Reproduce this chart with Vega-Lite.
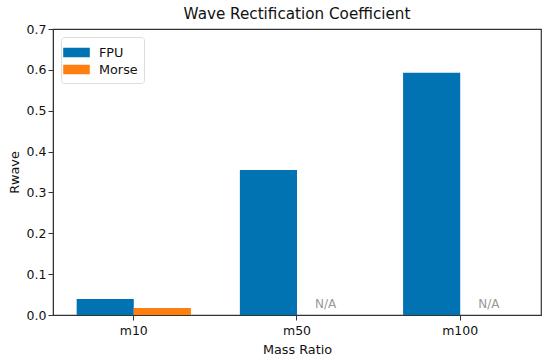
{
  "$schema": "https://vega.github.io/schema/vega-lite/v6.json",
  "autosize": {"type": "none"},
  "padding": {"left": 53, "top": 29, "right": 9, "bottom": 45},
  "width": 488,
  "height": 286,
  "title": {"text": "Wave Rectification Coefficient", "fontSize": 15.2, "fontWeight": "normal", "font": "DejaVu Sans", "color": "#111", "offset": 1},
  "config": {
    "view": {"stroke": "#333", "strokeWidth": 1.2},
    "font": "DejaVu Sans",
    "axis": {"labelFont": "DejaVu Sans", "titleFont": "DejaVu Sans", "labelFontSize": 12.5, "titleFontSize": 12.8, "titleFontWeight": "normal", "labelColor": "#111", "titleColor": "#111", "domainColor": "#333", "tickColor": "#333", "tickSize": 5, "grid": false}
  },
  "data": {"values": [
    {"ratio": "m10", "series": "FPU", "value": 0.039, "label": null},
    {"ratio": "m10", "series": "Morse", "value": 0.017, "label": null},
    {"ratio": "m50", "series": "FPU", "value": 0.355, "label": null},
    {"ratio": "m50", "series": "Morse", "value": null, "label": "N/A"},
    {"ratio": "m100", "series": "FPU", "value": 0.593, "label": null},
    {"ratio": "m100", "series": "Morse", "value": null, "label": "N/A"}
  ]},
  "encoding": {
    "x": {"field": "ratio", "type": "nominal", "sort": ["m10", "m50", "m100"],
      "scale": {"paddingInner": 0.3, "paddingOuter": 0.145},
      "axis": {"title": "Mass Ratio", "labelAngle": 0, "labelPadding": 4, "titlePadding": 7}},
    "xOffset": {"field": "series", "type": "nominal", "scale": {"domain": ["FPU", "Morse"], "paddingInner": 0, "paddingOuter": 0}}
  },
  "layer": [
    {
      "mark": {"type": "bar"},
      "encoding": {
        "y": {"field": "value", "type": "quantitative", "scale": {"domain": [0, 0.7], "nice": false},
          "axis": {"title": "Rwave", "values": [0, 0.1, 0.2, 0.3, 0.4, 0.5, 0.6, 0.7], "format": ".1f", "titlePadding": 5}},
        "color": {"field": "series", "type": "nominal",
          "scale": {"domain": ["FPU", "Morse"], "range": ["#0173B2", "#FF7F0E"]},
          "legend": {"title": null, "orient": "top-left", "offset": 8, "symbolType": "M-1.4,-0.5H1.4V0.5H-1.4Z", "symbolSize": 361, "symbolStrokeWidth": 0, "labelFontSize": 12.8, "labelFont": "DejaVu Sans", "labelColor": "#111", "labelOffset": 13, "rowPadding": 0, "padding": 6, "strokeColor": "#ddd", "cornerRadius": 3, "fillColor": "white"}}
      }
    },
    {
      "transform": [{"filter": "datum.label != null"}],
      "mark": {"type": "text", "baseline": "bottom", "fontSize": 12, "color": "#999", "font": "DejaVu Sans"},
      "encoding": {
        "y": {"datum": 0.01, "type": "quantitative"},
        "text": {"field": "label"}
      }
    }
  ]
}
